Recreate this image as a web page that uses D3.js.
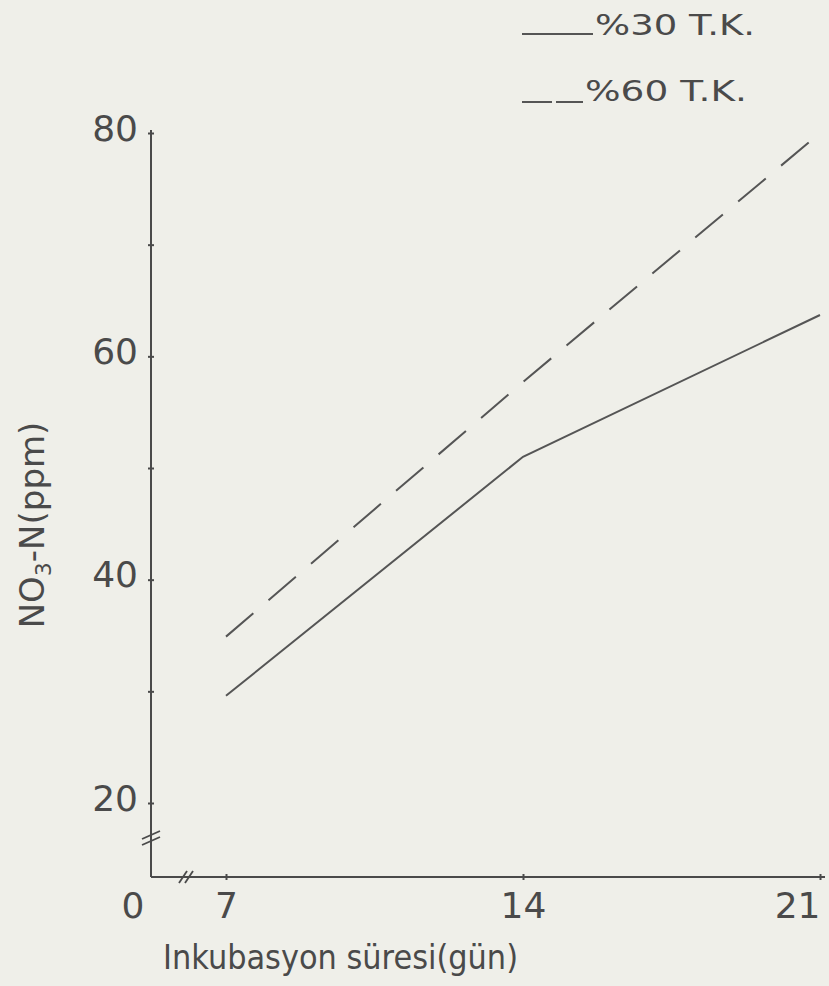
<!DOCTYPE html>
<html>
<head>
<meta charset="utf-8">
<script src="https://cdn.jsdelivr.net/npm/d3@7"></script>
<style>
  html, body { margin: 0; padding: 0; background: #efefe9; }
  text { font-family: "DejaVu Sans", sans-serif; fill: #4a4a4a; }
</style>
</head>
<body>
<div id="chart"></div>
<script>
var chart_width = 829;
var chart_height = 986;

// Data
var days = [7, 14, 21];
var tk30 = [29.6, 51, 63.7];
var tk60 = [34.9, 57.7, 80];
var seriesNames = ["%30 T.K.", "%60 T.K."];
var yTicks = [20, 30, 40, 50, 60, 70, 80];
var yLabels = [20, 40, 60, 80];
var xTickLabels = ["7", "14", "21"];

var axisX = 151, axisY = 877, axisTop = 130, axisRight = 825;
var ink = "#4a4a4a";

var svg = d3.select('#chart')
			.append('svg')
			.attr('width', chart_width)
			.attr('height', chart_height);

var x = d3.scaleLinear().domain([7, 21]).range([226, 820]);
var y = d3.scaleLinear().domain([20, 80]).range([803, 133]);

// Axis lines
svg.append('line')
	.attr('x1', axisX).attr('x2', axisX)
	.attr('y1', axisTop).attr('y2', axisY)
	.attr('stroke', ink).attr('stroke-width', 2);
svg.append('line')
	.attr('x1', axisX).attr('x2', axisRight)
	.attr('y1', axisY).attr('y2', axisY)
	.attr('stroke', ink).attr('stroke-width', 2);

// Y axis ticks and labels
var yAxis = svg.append('g')
	.attr('transform', 'translate(' + axisX + ',0)')
	.call(d3.axisLeft(y)
		.tickValues(yTicks)
		.tickSize(3)
		.tickFormat(function(d){ return yLabels.indexOf(d) >= 0 ? d : ''; }));
yAxis.select('.domain').remove();
yAxis.selectAll('.tick line')
	.attr('x1', -3).attr('x2', 3)
	.attr('stroke', ink).attr('stroke-width', 2);
yAxis.selectAll('.tick text')
	.attr('x', -13)
	.attr('dy', '0.2em')
	.attr('font-size', 36)
	.attr('fill', ink)
	.style('font-family', '"DejaVu Sans", sans-serif');

// X axis ticks and labels
var xAxis = svg.append('g')
	.attr('transform', 'translate(0,' + axisY + ')')
	.call(d3.axisBottom(x)
		.tickValues(days)
		.tickSize(3)
		.tickFormat(function(d, i){ return xTickLabels[i]; }));
xAxis.select('.domain').remove();
xAxis.selectAll('.tick line')
	.attr('y1', -3).attr('y2', 3)
	.attr('stroke', ink).attr('stroke-width', 2);
xAxis.selectAll('.tick text')
	.attr('y', 41)
	.attr('dy', 0)
	.attr('font-size', 36)
	.attr('fill', ink)
	.style('font-family', '"DejaVu Sans", sans-serif');
// last label sits against the right edge
xAxis.selectAll('.tick text')
	.filter(function(d){ return d === 21; })
	.attr('text-anchor', 'end')
	.attr('x', 0);

// origin label
svg.append('text')
	.attr('x', 133).attr('y', axisY + 41)
	.attr('text-anchor', 'middle')
	.attr('font-size', 36)
	.text('0');

// Axis breaks
[[-4, 0], [2, 0]].forEach(function(o){
	svg.append('line')
		.attr('x1', axisX - 9).attr('y1', 843 + o[0])
		.attr('x2', axisX + 9).attr('y2', 835 + o[0])
		.attr('stroke', ink).attr('stroke-width', 1.8);
	svg.append('line')
		.attr('x1', 183 + o[0]).attr('y1', axisY + 6)
		.attr('x2', 191 + o[0]).attr('y2', axisY - 6)
		.attr('stroke', ink).attr('stroke-width', 1.8);
});

// Axis titles
svg.append('text')
	.attr('x', 163).attr('y', 969)
	.attr('font-size', 34)
	.attr('textLength', 355)
	.attr('lengthAdjust', 'spacingAndGlyphs')
	.text('Inkubasyon süresi(gün)');

var yt = svg.append('text')
	.attr('transform', 'translate(44,525) rotate(-90)')
	.attr('text-anchor', 'middle')
	.attr('font-size', 34);
yt.append('tspan').text('NO');
yt.append('tspan').attr('font-size', 22).attr('dy', 7).text('3');
yt.append('tspan').attr('dy', -7).text('-N(ppm)');

// Lines
var line = d3.line()
	.x(function(d){ return x(d[0]); })
	.y(function(d){ return y(d[1]); });

svg.append('path')
	.datum(d3.zip(days, tk30))
	.attr('d', line)
	.attr('fill', 'none')
	.attr('stroke', '#555')
	.attr('stroke-width', 2);

svg.append('path')
	.datum(d3.zip(days, tk60))
	.attr('d', line)
	.attr('fill', 'none')
	.attr('stroke', '#555')
	.attr('stroke-width', 2)
	.attr('stroke-dasharray', '36,20');

// Legend
svg.append('line')
	.attr('x1', 522).attr('x2', 593)
	.attr('y1', 34).attr('y2', 34)
	.attr('stroke', '#555').attr('stroke-width', 2);
svg.append('text')
	.attr('x', 595).attr('y', 35)
	.attr('font-size', 28)
	.attr('textLength', 160)
	.attr('lengthAdjust', 'spacingAndGlyphs')
	.text(seriesNames[0]);

svg.append('line')
	.attr('x1', 522).attr('x2', 583)
	.attr('y1', 102).attr('y2', 102)
	.attr('stroke', '#555').attr('stroke-width', 2)
	.attr('stroke-dasharray', '30,4');
svg.append('text')
	.attr('x', 585).attr('y', 101)
	.attr('font-size', 28)
	.attr('textLength', 162)
	.attr('lengthAdjust', 'spacingAndGlyphs')
	.text(seriesNames[1]);
</script>
</body>
</html>
